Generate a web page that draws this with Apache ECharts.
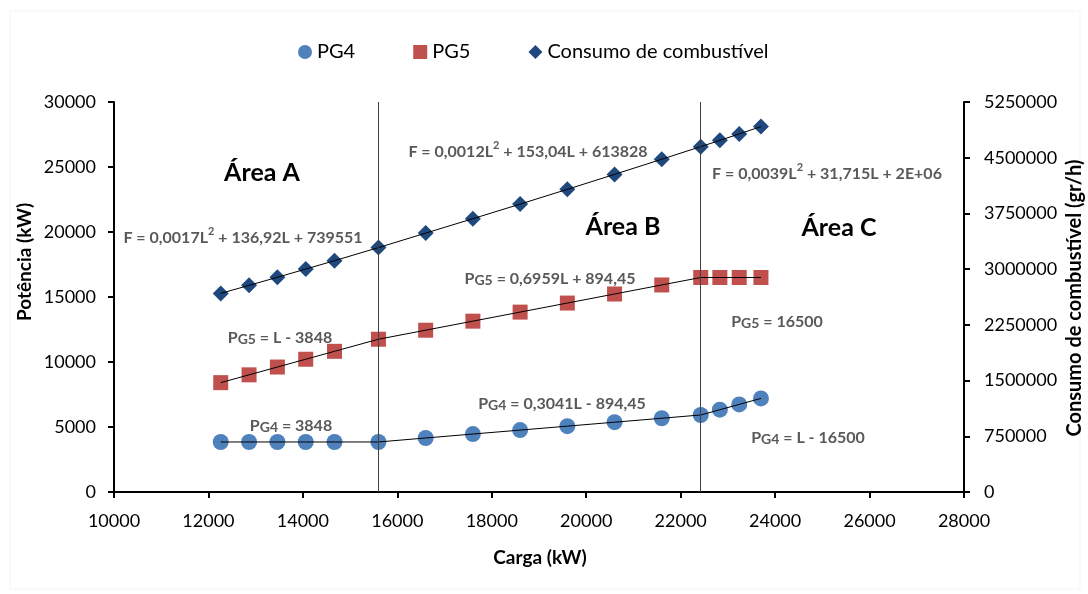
<!DOCTYPE html>
<html>
<head>
<meta charset="utf-8">
<script src="https://cdn.jsdelivr.net/npm/echarts@6/dist/echarts.min.js"></script>
<style>
  html, body { margin: 0; padding: 0; background: #fff; }
  #chart { width: 1088px; height: 594px; }
</style>
</head>
<body>
<div id="chart"></div>
<script>
// Carga (kW) at each operating point
const carga = [12260, 12860, 13460, 14060, 14670, 15600, 16600, 17600, 18600,
               19600, 20600, 21600, 22425, 22830, 23240, 23700];
// Power split between the two generators (kW)
const pg4 = [3848, 3848, 3848, 3848, 3848, 3848, 4154, 4458, 4762,
             5066, 5370, 5674, 5925, 6330, 6740, 7200];
const pg5 = [8412, 9012, 9612, 10212, 10822, 11752, 12446, 13142, 13838,
             14534, 15230, 15926, 16500, 16500, 16500, 16500];
// Fuel consumption (gr/h)
const consumo = [2673700, 2781500, 2890500, 3000700, 3114000, 3290000, 3485000,
                 3679000, 3875500, 4074400, 4275700, 4479400, 4649200, 4733500,
                 4820200, 4919000];
// Load values separating operating areas A/B and B/C
const limites = [15600, 22425];

const seriesNames = ['PG4', 'PG5', 'Consumo de combustível'];

const FONT = 'Lato, "Open Sans", sans-serif';
const GRAY = '#595959';

const pairs = (ys) => carga.map((x, i) => [x, ys[i]]);
const plain = (v) => String(v);

const chart = echarts.init(document.getElementById('chart'), null, { renderer: 'canvas' });

const richBase = {
  t: { fontFamily: FONT, fontWeight: 'bold', fontSize: 16, fill: GRAY, color: GRAY, verticalAlign: 'bottom', lineHeight: 20 },
  s: { fontFamily: FONT, fontWeight: 'bold', fontSize: 14, fill: GRAY, color: GRAY, verticalAlign: 'bottom', lineHeight: 20 },
  sup: { fontFamily: FONT, fontWeight: 'bold', fontSize: 11, fill: GRAY, color: GRAY, verticalAlign: 'top', lineHeight: 20 }
};

// Equation / area annotations
function note(x, y, text, size, color) {
  return {
    type: 'text', x: x, y: y, z: 10,
    style: {
      text: text, fill: color || GRAY, font: 'bold ' + (size || 16) + 'px ' + FONT,
      align: 'center', verticalAlign: 'middle'
    }
  };
}
function fNote(x, y, a, rest) {
  return {
    type: 'text', x: x, y: y, z: 10,
    style: {
      text: '{t|F = ' + a + 'L}{sup|2}{t|' + rest + '}', fill: GRAY,
      align: 'center', verticalAlign: 'middle', rich: richBase
    }
  };
}
function pgNote(x, y, gen, rest) {
  return {
    type: 'text', x: x, y: y, z: 10,
    style: {
      text: '{t|P}{s|' + gen + '}{t|' + rest + '}', fill: GRAY,
      align: 'center', verticalAlign: 'middle', rich: richBase
    }
  };
}

const axisCommon = {
  axisLine: { show: true, lineStyle: { color: '#000', width: 2 } },
  axisTick: { show: true, inside: false, length: 6, lineStyle: { color: '#000', width: 2 } },
  splitLine: { show: false }
};

const option = {
  backgroundColor: '#fff',
  animation: false,
  textStyle: { fontFamily: FONT },
  grid: { left: 114, right: 124, top: 102, bottom: 102, containLabel: false },
  legend: {
    data: seriesNames,
    top: 37, left: 293,
    itemWidth: 14, itemHeight: 14, itemGap: 58,
    textStyle: { fontSize: 20, color: '#000', fontFamily: FONT }
  },
  xAxis: Object.assign({
    type: 'value', min: 10000, max: 28000, interval: 2000,
    axisLabel: { color: '#000', fontSize: 18, margin: 20, formatter: plain }
  }, axisCommon),
  yAxis: [
    Object.assign({
      type: 'value', min: 0, max: 30000, interval: 5000,
      axisLabel: { color: '#000', fontSize: 18, margin: 18, formatter: plain }
    }, axisCommon),
    Object.assign({
      type: 'value', min: 0, max: 5250000, interval: 750000, position: 'right',
      axisLabel: { color: '#000', fontSize: 18, margin: 20, formatter: plain }
    }, axisCommon)
  ],
  series: [
    {
      name: 'PG4', type: 'scatter', data: pairs(pg4), symbol: 'circle', symbolSize: 16,
      itemStyle: { color: '#4F81BD', opacity: 1 }, z: 2
    },
    {
      name: 'PG5', type: 'scatter', data: pairs(pg5), symbol: 'rect', symbolSize: 15,
      itemStyle: { color: '#C0504D', opacity: 1 }, z: 2
    },
    {
      name: 'Consumo de combustível', type: 'scatter', yAxisIndex: 1, data: pairs(consumo),
      symbol: 'diamond', symbolSize: 16, itemStyle: { color: '#1F497D', opacity: 1 }, z: 2
    },
    // trend lines drawn over the markers
    {
      name: 'PG4 tendência', type: 'line', data: pairs(pg4), symbol: 'none', z: 4,
      lineStyle: { color: '#000', width: 1 }, silent: true,
      markLine: {
        silent: true, symbol: 'none', label: { show: false },
        lineStyle: { color: '#404040', width: 1, type: 'solid' },
        data: limites.map(v => ({ xAxis: v }))
      }
    },
    {
      name: 'PG5 tendência', type: 'line', data: pairs(pg5), symbol: 'none', z: 4,
      lineStyle: { color: '#000', width: 1 }, silent: true
    },
    {
      name: 'Consumo tendência', type: 'line', yAxisIndex: 1, data: pairs(consumo), symbol: 'none', z: 4,
      lineStyle: { color: '#000', width: 1 }, silent: true
    }
  ],
  graphic: [
    { type: 'rect', shape: { x: 10, y: 11, width: 1070, height: 578 }, z: -1,
      style: { fill: 'none', stroke: '#f4f4f4', lineWidth: 1 } },
    note(262, 173, 'Área A', 25, '#000'),
    note(623, 227, 'Área B', 25, '#000'),
    note(839, 228, 'Área C', 25, '#000'),
    fNote(243, 236, '0,0017', ' + 136,92L + 739551'),
    fNote(528, 150, '0,0012', ' + 153,04L + 613828'),
    fNote(827, 172, '0,0039', ' + 31,715L + 2E+06'),
    pgNote(280, 336, 'G5', ' = L - 3848'),
    pgNote(550, 277, 'G5', ' = 0,6959L + 894,45'),
    pgNote(777, 320, 'G5', ' = 16500'),
    pgNote(291, 424, 'G4', ' = 3848'),
    pgNote(562, 402, 'G4', ' = 0,3041L - 894,45'),
    pgNote(808, 436, 'G4', ' = L - 16500'),
    // axis titles
    { type: 'text', x: 540, y: 558, z: 10,
      style: { text: 'Carga (kW)', font: 'bold 19px ' + FONT, fill: '#000', align: 'center', verticalAlign: 'middle' } },
    { type: 'text', x: 25, y: 262, rotation: Math.PI / 2, z: 10,
      style: { text: 'Potência (kW)', font: 'bold 19px ' + FONT, fill: '#000', align: 'center', verticalAlign: 'middle' } },
    { type: 'text', x: 1075, y: 298, rotation: Math.PI / 2, z: 10,
      style: { text: 'Consumo de combustível (gr/h)', font: 'bold 20px ' + FONT, fill: '#000', align: 'center', verticalAlign: 'middle' } }
  ]
};

chart.setOption(option);
</script>
</body>
</html>
